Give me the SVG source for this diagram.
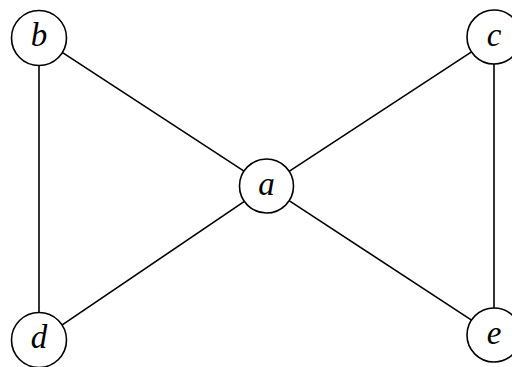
<svg xmlns="http://www.w3.org/2000/svg" width="512" height="367" viewBox="0 0 512 367">
<style>
.n circle{fill:#fff;stroke:#000;stroke-width:1.6}
.n text{font-family:"Liberation Serif","DejaVu Serif",serif;font-style:italic;font-size:33px;text-anchor:middle;dominant-baseline:central;fill:#000}
.e line{stroke:#000;stroke-width:1.6}
</style>
<rect width="512" height="367" fill="#fff"/>
<g id="connectors" class="e">
<line x1="61.8" y1="52.2" x2="245.2" y2="171.8"/>
<line x1="472.3" y1="51.3" x2="288.7" y2="171.7"/>
<line x1="61.5" y1="325.4" x2="245.5" y2="200.6"/>
<line x1="472.3" y1="320.7" x2="288.7" y2="200.3"/>
<line x1="39" y1="64" x2="39" y2="314"/>
<line x1="494" y1="63" x2="494" y2="309"/>
</g>
<g id="a" class="n"><circle cx="266.5" cy="186" r="27"/><text x="266.5" y="184">a</text></g>
<g id="b" class="n"><circle cx="39" cy="38" r="27.5"/><text x="39" y="35">b</text></g>
<g id="c" class="n"><circle cx="494" cy="37" r="27"/><text x="494" y="35">c</text></g>
<g id="d" class="n"><circle cx="39" cy="340" r="27.5"/><text x="39" y="337">d</text></g>
<g id="e" class="n"><circle cx="494" cy="335" r="27"/><text x="494" y="333">e</text></g>
</svg>
